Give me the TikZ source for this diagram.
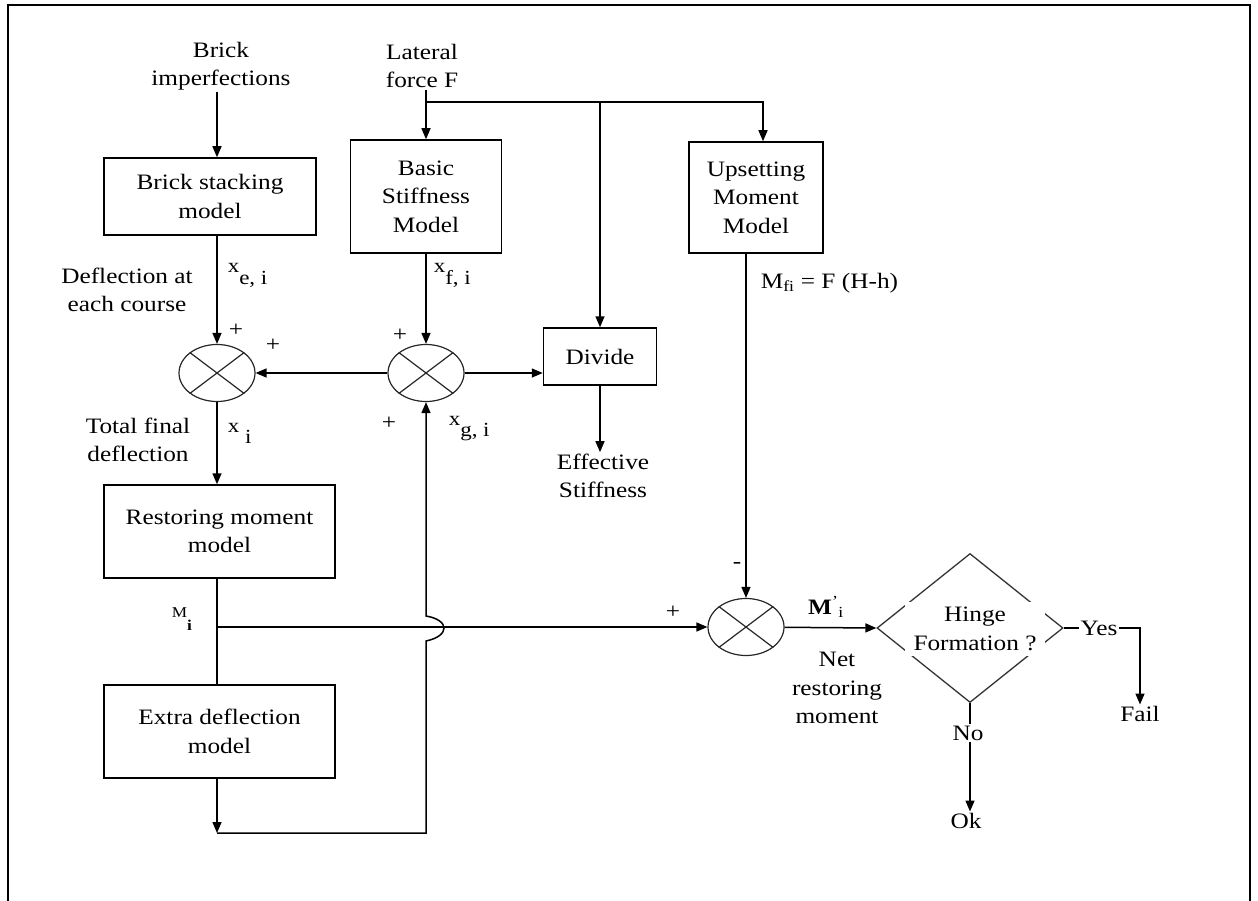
\documentclass[tikz,border=0pt]{standalone}
\usepackage{fontspec}
\setmainfont{Liberation Serif}[FakeStretch=1.15]
\usetikzlibrary{positioning,arrows.meta,shapes.geometric,calc}
\tikzset{
  blk/.style={rectangle,draw,line width=1.5pt,align=center,inner sep=2pt},
  sumj/.style={ellipse,draw=black!85,line width=1.2pt,
               minimum width=76pt,minimum height=57pt,inner sep=0pt},
  txt/.style={align=center,inner sep=1pt},
  lbl/.style={inner sep=0pt,font=\fontsize{20}{20}\selectfont},
  sgn/.style={inner sep=0pt,font=\fontsize{22}{22}\selectfont},
  edge/.style={-{Triangle[length=11pt,width=9pt]},line width=1.5pt},
}
\newcommand{\lsub}[1]{\raisebox{-11pt}{#1}}

\begin{document}
\begin{tikzpicture}[x=1pt, y=-1pt, line width=1.5pt, font=\fontsize{22}{28.5}\selectfont]
\useasboundingbox (0,0) rectangle (1258,901);
\draw[line width=2pt] (8,901) -- (8,5) -- (1250,5) -- (1250,901);

% Inputs
\node[txt] (bimp) at (221,66) {Brick\\imperfections};
\node[txt] (lat)  at (422,66) {Lateral\\force F};

% Model blocks
\node[blk,minimum width=212pt,minimum height=77pt]  (stack) at (210,196.5) {Brick stacking\\model};
\node[blk,minimum width=151pt,minimum height=113pt] (basic) at (426,196.5) {Basic\\Stiffness\\Model};
\node[blk,minimum width=134pt,minimum height=111pt] (ups)   at (756,197.5) {Upsetting\\Moment\\Model};
\node[blk,minimum width=113pt,minimum height=57pt]  (div)   at (600,356.5) {Divide};
\node[blk,minimum width=231pt,minimum height=93pt]  (rest)  at (219.5,531.5) {Restoring moment\\model};
\node[blk,minimum width=231pt,minimum height=93pt]  (extra) at (219.5,731.5) {Extra deflection\\model};

% Summing junctions
\node[sumj] (s1) at (217,373) {};
\node[sumj] (s2) at (426,373) {};
\node[sumj] (s3) at (746,627) {};
\foreach \s in {s1,s2,s3}
  \draw[black!85,line width=1.2pt] (\s.north west) -- (\s.south east) (\s.north east) -- (\s.south west);

% Decision
\node[diamond,draw=black!80,line width=1.3pt,minimum width=186pt,minimum height=149pt,inner sep=0pt] (hinge) at (970,628) {};
\node[txt,fill=white,minimum width=140pt,minimum height=54pt] (hingetxt) at (975,629) {Hinge\\Formation ?};

% Outputs and side texts
\node[txt] (eff)  at (603,476) {Effective\\Stiffness};
\node[txt] (defl) at (127,290) {Deflection at\\each course};
\node[txt] (tot)  at (138,440) {Total final\\deflection};
\node[txt] (net)  at (837,688) {Net\\restoring\\moment};
\node[txt] (yes)  at (1099,628) {Yes};
\node[txt] (fail) at (1140,714) {Fail};
\node[txt] (no)   at (968,733) {No};
\node[txt] (ok)   at (966,821) {Ok};

% Signal labels
\node[lbl,anchor=base west] at (227,273) {x\lsub{e, i}};
\node[lbl,anchor=base west] at (433,273) {x\lsub{f, i}};
\node[lbl,anchor=base west] at (227,432) {x\lsub{~i}};
\node[lbl,anchor=base west] at (448,425) {x\lsub{g, i}};
\node[inner sep=0pt,anchor=base west,font=\fontsize{15}{15}\selectfont] at (171,617) {M\raisebox{-13pt}{\textbf{i}}};
\node[inner sep=0pt,anchor=west] at (760,283) {M\textsubscript{fi} = F (H-h)};
\node[inner sep=0pt] at (826,607) {\textbf{M}\textsuperscript{'}\textsubscript{i}};

% Signs
\node[sgn] at (236,330) {+};
\node[sgn] at (273,345) {+};
\node[sgn] at (400,335) {+};
\node[sgn] at (389,423) {+};
\node[sgn] at (673,612) {+};
\node[sgn] at (737,565) {-};

% Connectors
\coordinate (top)  at (426,102);
\coordinate (loop) at (217,833);
\draw[edge] (bimp.south -| s1) -- (stack.north -| s1);
\draw (lat.south -| top) -- (top);
\draw[edge] (top) -- (basic.north);
\draw[edge] (top) -| ([xshift=7pt]ups.north);
\draw[edge] (top -| div) -- (div.north);
\draw[edge] (div.south) -- (div.south |- eff.north);
\draw[edge] (stack.south -| s1) -- (s1.north);
\draw[edge] (basic) -- (s2);
\draw[edge] (s2) -- (s1);
\draw[edge] (s2.east) -- (s2.east -| div.west);
\draw[edge] (s1) -- (rest.north -| s1);
\draw (rest.south -| s1) -- (extra.north -| s1);
\draw[edge] (s1 |- s3) -- (s3.west);
\draw[edge] (extra.south -| s1) -- (loop);
\draw[edge] (loop) -- (loop -| s2) -- (426,641) .. controls (450,636) and (450,620) .. (426,616) -- (s2.south);
\draw[edge] (ups.south -| s3) -- (s3.north);
\draw[edge] (s3) -- (hinge.west);
\draw (hinge.east) -- (yes.west);
\draw[edge] (yes.east) -| (fail.north);
\draw (hinge.south) -- (hinge.south |- no.north);
\draw[edge] (no.south -| hinge) -- (hinge |- ok.north);
\end{tikzpicture}
\end{document}
